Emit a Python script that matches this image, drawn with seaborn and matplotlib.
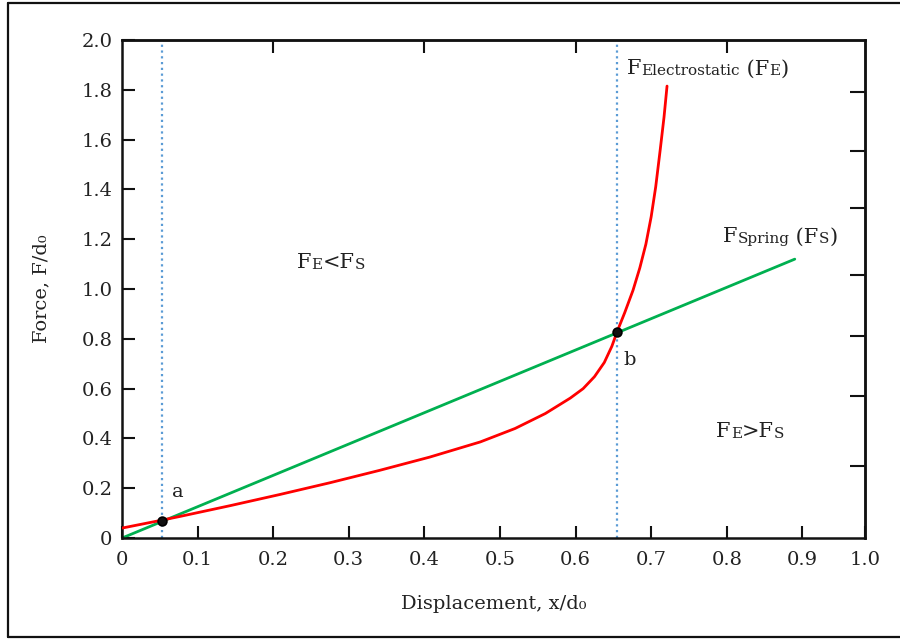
import numpy as np
import pandas as pd
import seaborn as sns
import matplotlib.pyplot as plt
from matplotlib.lines import Line2D

# values
disp_electro = [0.0, 0.053, 0.077, 0.143, 0.209, 0.275, 0.341, 0.407, 0.474, 0.52,
                0.56, 0.593, 0.61, 0.625, 0.638, 0.648, 0.655, 0.665, 0.676, 0.685,
                0.693, 0.70, 0.706, 0.712, 0.717, 0.721]
force_electro = [0.04, 0.072, 0.087, 0.13, 0.175, 0.222, 0.272, 0.325, 0.386, 0.44,
                 0.5, 0.562, 0.60, 0.648, 0.705, 0.77, 0.829, 0.905, 0.995, 1.085,
                 1.18, 1.29, 1.41, 1.56, 1.69, 1.815]
disp_spring = [0.0, 0.89]
force_spring = [0.0, 1.12]

cross_x = [0.053, 0.655]
cross_y = [0.069, 0.829]
cross_names = ["a", "b"]

xtick_vals = [0, 0.1, 0.2, 0.3, 0.4, 0.5, 0.6, 0.7, 0.8, 0.9, 0.983]
xtick_labels = ["0", "0.1", "0.2", "0.3", "0.4", "0.5", "0.6", "0.7", "0.8", "0.9", "1.0"]
ytick_vals = [0, 0.2, 0.4, 0.6, 0.8, 1.0, 1.2, 1.4, 1.6, 1.8, 2.0]
ytick_labels = ["0", "0.2", "0.4", "0.6", "0.8", "1.0", "1.2", "1.4", "1.6", "1.8", "2.0"]
top_ticks = [0.2, 0.4, 0.6, 0.8]
right_ticks = [1.79, 1.554, 1.325, 1.056, 0.811, 0.57, 0.289]

electro = pd.DataFrame({"x": disp_electro, "F": force_electro})
spring = pd.DataFrame({"x": disp_spring, "F": force_spring})


def mixed_text(ax, x, y, pieces, big=15, small=11):
    # big letter followed by smaller "subscript" letters on the same line
    s, is_big = pieces[0]
    t = ax.text(x, y, s, fontsize=big if is_big else small, va="center", ha="left",
                color="#222222")
    for s, is_big in pieces[1:]:
        t = ax.annotate(s, xy=(1, 0), xycoords=t, va="bottom", ha="left",
                        fontsize=big if is_big else small, color="#222222")
    return t


sns.set_theme(style="ticks")
plt.rcParams["font.family"] = ["DejaVu Serif"]
plt.rcParams["text.color"] = "#222222"
plt.rcParams["axes.labelcolor"] = "#222222"

fig = plt.figure(figsize=(9, 6.39), dpi=100)
ax = fig.add_axes([0.1356, 0.158, 0.8256, 0.7794])

for xv in cross_x:
    ax.axvline(xv, color="#5b9bd5", linestyle=(0, (1, 1.6)), linewidth=1.6, zorder=1)

sns.lineplot(data=electro, x="x", y="F", color="#ff0000", linewidth=2.0, ax=ax,
             sort=False, zorder=3, solid_joinstyle="round")
sns.lineplot(data=spring, x="x", y="F", color="#00b050", linewidth=2.0, ax=ax,
             sort=False, zorder=2)
sns.scatterplot(x=cross_x, y=cross_y, color="#111111", edgecolor="black", s=40,
                linewidth=1.2, ax=ax, zorder=4)

ax.set_xlim(0, 0.983)
ax.set_ylim(0, 2.0)
ax.set_xticks(xtick_vals)
ax.set_xticklabels(xtick_labels)
ax.set_yticks(ytick_vals)
ax.set_yticklabels(ytick_labels)
ax.tick_params(direction="in", length=9, width=1.5, labelsize=14, colors="#111111",
               labelcolor="#222222")
ax.tick_params(axis="x", pad=9)
ax.tick_params(axis="y", pad=7)
for sp in ax.spines.values():
    sp.set_linewidth(1.8)
    sp.set_color("#111111")

top = ax.secondary_xaxis("top")
top.set_xticks(top_ticks)
top.set_xticklabels([])
top.tick_params(direction="in", length=9, width=1.5, colors="#111111")
top.spines["top"].set_linewidth(1.8)

right = ax.secondary_yaxis("right")
right.set_yticks(right_ticks)
right.set_yticklabels([])
right.tick_params(direction="in", length=11, width=1.5, colors="#111111")
right.spines["right"].set_linewidth(1.8)

ax.set_xlabel("Displacement, x/d\u2080", fontsize=14, labelpad=19)
ax.set_ylabel("Force, F/d\u2080", fontsize=14, labelpad=22)

ax.text(0.066, 0.185, cross_names[0], fontsize=14, va="center", ha="left")
ax.text(0.663, 0.715, cross_names[1], fontsize=14, va="center", ha="left")

mixed_text(ax, 0.668, 1.884, [("F", True), ("Electrostatic", False), (" (F", True),
                              ("E", False), (")", True)])
mixed_text(ax, 0.795, 1.209, [("F", True), ("Spring", False), (" (F", True),
                              ("S", False), (")", True)])
mixed_text(ax, 0.231, 1.108, [("F", True), ("E", False), ("<F", True), ("S", False)])
mixed_text(ax, 0.786, 0.426, [("F", True), ("E", False), (">F", True), ("S", False)])

# outer frame of the picture
for xs, ys in [([0.009, 0.009], [0.003, 0.995]), ([0.009, 1.0], [0.995, 0.995]),
               ([0.009, 1.0], [0.003, 0.003])]:
    fig.add_artist(Line2D(xs, ys, color="#111111", linewidth=1.6,
                          transform=fig.transFigure))

plt.savefig("out.png", dpi=100)
